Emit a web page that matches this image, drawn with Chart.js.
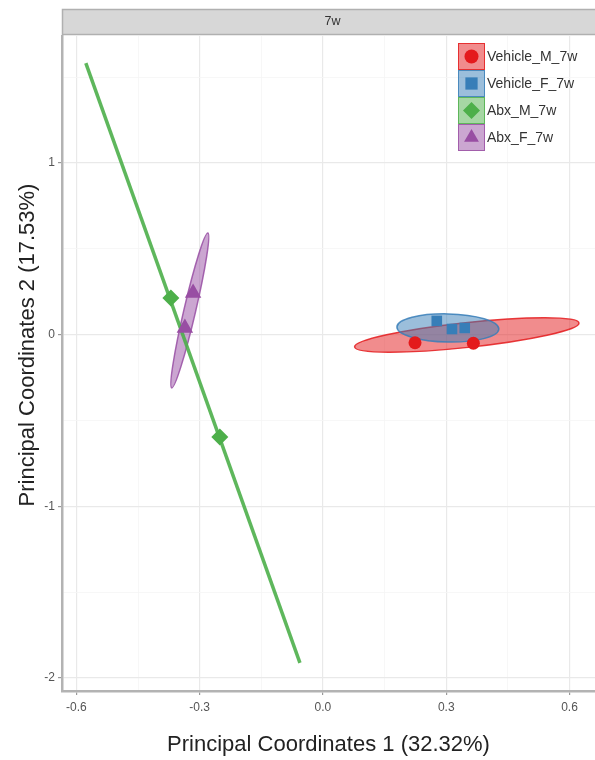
<!DOCTYPE html>
<html>
<head>
<meta charset="utf-8">
<script src="https://cdn.jsdelivr.net/npm/chart.js"></script>
<style>
  body { margin: 0; background: #fff; }
  #c { display: block; }
</style>
</head>
<body>
<canvas id="c" width="595" height="760"></canvas>
<script>
// datos (PCoA, panel 7w)
var groups = ['Vehicle_M_7w', 'Vehicle_F_7w', 'Abx_M_7w', 'Abx_F_7w'];
var colors = ['#E41A1C', '#377EB8', '#4DAF4A', '#984EA3'];
var shapes = ['circle', 'rect', 'rectRot', 'triangle'];

var vehicleM = [[0.224, -0.047], [0.366, -0.050]];
var vehicleF = [[0.277, 0.080], [0.314, 0.033], [0.345, 0.039]];
var abxM = [[-0.370, 0.213], [-0.251, -0.596]];
var abxF = [[-0.316, 0.243], [-0.336, 0.039]];

// elipses: centro, extremo del eje largo, extremo del eje corto
var vehicleMEllipse = [[0.350, -0.002], [0.623, 0.068], [0.3535, -0.074]];
var vehicleFEllipse = [[0.304, 0.039], [0.428, 0.033], [0.304, 0.121]];
var abxFEllipse = [[-0.324, 0.141], [-0.280, 0.592], [-0.310, 0.134]];
// la elipse de Abx_M sale degenerada (una linea)
var abxMLine = [[-0.577, 1.582], [-0.056, -1.912]];

var xMajor = [-0.6, -0.3, 0, 0.3, 0.6];
var xMinor = [-0.45, -0.15, 0.15, 0.45];
var yMajor = [-2, -1, 0, 1];
var yMinor = [-1.5, -0.5, 0.5, 1.5];

var stripLabel = '7w';
var xTitle = 'Principal Coordinates 1 (32.32%)';
var yTitle = 'Principal Coordinates 2 (17.53%)';

function toXY(arr) {
    return arr.map(function (p) { return { x: p[0], y: p[1] }; });
}

function rgba(hex, a) {
    var r = parseInt(hex.substr(1, 2), 16);
    var g = parseInt(hex.substr(3, 2), 16);
    var b = parseInt(hex.substr(5, 2), 16);
    return 'rgba(' + r + ',' + g + ',' + b + ',' + a + ')';
}

function sortedTicks(a, b) {
    return a.concat(b).sort(function (p, q) { return p - q; });
}

// dibuja una forma en (x,y) con el tamaño r
function drawShape(ctx, shape, x, y, r, color) {
    ctx.fillStyle = color;
    ctx.beginPath();
    if (shape == 'circle') {
        ctx.arc(x, y, r, 0, Math.PI * 2);
    } else if (shape == 'rect') {
        ctx.rect(x - r * 0.72, y - r * 0.72, r * 1.44, r * 1.44);
    } else if (shape == 'rectRot') {
        ctx.moveTo(x, y - r);
        ctx.lineTo(x + r, y);
        ctx.lineTo(x, y + r);
        ctx.lineTo(x - r, y);
        ctx.closePath();
    } else {
        ctx.moveTo(x, y - r);
        ctx.lineTo(x + r * 0.87, y + r * 0.5);
        ctx.lineTo(x - r * 0.87, y + r * 0.5);
        ctx.closePath();
    }
    ctx.fill();
}

var ellipses = [
    { e: vehicleMEllipse, color: colors[0] },
    { e: vehicleFEllipse, color: colors[1] },
    { e: abxFEllipse, color: colors[3] }
];

var panelPlugin = {
    id: 'panel',
    beforeDraw: function (chart) {
        var ctx = chart.ctx;
        var area = chart.chartArea;
        // cabecera gris del facet
        ctx.save();
        ctx.fillStyle = '#d7d7d7';
        ctx.fillRect(area.left, 9, area.right - area.left + 5, 26);
        ctx.strokeStyle = '#b0b0b0';
        ctx.lineWidth = 1.5;
        ctx.strokeRect(area.left + 0.5, 9.5, area.right - area.left + 10, 25);
        ctx.fillStyle = '#333';
        ctx.font = '12.5px "Liberation Sans", Arial, sans-serif';
        ctx.textAlign = 'center';
        ctx.textBaseline = 'middle';
        ctx.fillText(stripLabel, (area.left + area.right) / 2 + 4, 22);
        // titulo del eje y (un poco por encima del centro, como en el original)
        ctx.translate(28, 345);
        ctx.rotate(-Math.PI / 2);
        ctx.fillStyle = '#222';
        ctx.font = '22px "Liberation Sans", Arial, sans-serif';
        ctx.fillText(yTitle, 0, 0);
        ctx.restore();
    },
    beforeDatasetsDraw: function (chart) {
        var ctx = chart.ctx;
        var xs = chart.scales.x;
        var ys = chart.scales.y;
        ctx.save();
        ellipses.forEach(function (el) {
            var cx = xs.getPixelForValue(el.e[0][0]);
            var cy = ys.getPixelForValue(el.e[0][1]);
            var mx = xs.getPixelForValue(el.e[1][0]);
            var my = ys.getPixelForValue(el.e[1][1]);
            var nx = xs.getPixelForValue(el.e[2][0]);
            var ny = ys.getPixelForValue(el.e[2][1]);
            var a = Math.hypot(mx - cx, my - cy);
            var b = Math.hypot(nx - cx, ny - cy);
            var ang = Math.atan2(my - cy, mx - cx);
            ctx.beginPath();
            ctx.ellipse(cx, cy, a, b, ang, 0, Math.PI * 2);
            ctx.fillStyle = rgba(el.color, 0.5);
            ctx.fill();
            ctx.strokeStyle = rgba(el.color, 0.85);
            ctx.lineWidth = 1.5;
            ctx.stroke();
        });
        ctx.restore();
    },
    afterDraw: function (chart) {
        // leyenda dentro del panel
        var ctx = chart.ctx;
        var bx = 458, by = 43, bs = 27;
        ctx.save();
        for (var i = 0; i < groups.length; i++) {
            var y0 = by + i * bs;
            ctx.fillStyle = rgba(colors[i], 0.5);
            ctx.fillRect(bx, y0, bs, bs);
            ctx.strokeStyle = rgba(colors[i], 0.8);
            ctx.lineWidth = 1;
            ctx.strokeRect(bx + 0.5, y0 + 0.5, bs - 1, bs - 1);
            drawShape(ctx, shapes[i], bx + bs / 2, y0 + bs / 2, i == 0 ? 7 : 8.5, colors[i]);
            ctx.fillStyle = '#333';
            ctx.font = '14px "Liberation Sans", Arial, sans-serif';
            ctx.textAlign = 'left';
            ctx.textBaseline = 'middle';
            ctx.fillText(groups[i], bx + bs + 2, y0 + bs / 2 + 1);
        }
        ctx.restore();
    }
};

var pointData = [vehicleM, vehicleF, abxM, abxF];
var pointSizes = [6.5, 7.5, 8.5, 9.5];
var datasets = [];
for (var i = 0; i < groups.length; i++) {
    datasets.push({
        label: groups[i],
        data: toXY(pointData[i]),
        pointStyle: shapes[i],
        pointRadius: pointSizes[i],
        pointBackgroundColor: colors[i],
        pointBorderColor: colors[i],
        pointBorderWidth: 0,
        order: 1
    });
}
datasets.push({
    label: 'Abx_M_7w_ellipse',
    data: toXY(abxMLine),
    showLine: true,
    borderColor: rgba(colors[2], 0.9),
    borderWidth: 3.5,
    pointRadius: 0,
    order: 10
});

var xTicks = sortedTicks(xMajor, xMinor);
var yTicks = sortedTicks(yMajor, yMinor);

Chart.defaults.font.family = '"Liberation Sans", Arial, sans-serif';

new Chart(document.getElementById('c'), {
    type: 'scatter',
    data: { datasets: datasets },
    plugins: [panelPlugin],
    options: {
        responsive: false,
        animation: false,
        layout: { autoPadding: false, padding: { top: 36, right: 0, bottom: 0, left: 0 } },
        plugins: { legend: { display: false }, tooltip: { enabled: false } },
        scales: {
            x: {
                type: 'linear',
                min: -0.635,
                max: 0.662,
                afterBuildTicks: function (s) { s.ticks = xTicks.map(function (v) { return { value: v }; }); },
                afterFit: function (s) { s.height = 69; s.paddingLeft = 0; s.paddingRight = 0; },
                border: { display: true, color: '#b3b3b3', width: 2.5 },
                grid: {
                    color: function (c) { return xMajor.indexOf(c.tick.value) >= 0 ? '#e9e9e9' : '#f5f5f5'; },
                    lineWidth: function (c) { return xMajor.indexOf(c.tick.value) >= 0 ? 1.2 : 0.8; },
                    tickColor: function (c) { return xMajor.indexOf(c.tick.value) >= 0 ? '#999' : 'rgba(0,0,0,0)'; },
                    tickLength: 4
                },
                ticks: {
                    autoSkip: false,
                    maxRotation: 0,
                    padding: 5,
                    color: '#555',
                    font: { size: 12 },
                    callback: function (v) { return xMajor.indexOf(v) >= 0 ? v.toFixed(1) : ''; }
                },
                title: {
                    display: true,
                    text: xTitle,
                    color: '#222',
                    font: { size: 22 },
                    padding: { top: 0, bottom: 2 }
                }
            },
            y: {
                type: 'linear',
                min: -2.076,
                max: 1.740,
                afterBuildTicks: function (s) { s.ticks = yTicks.map(function (v) { return { value: v }; }); },
                afterFit: function (s) { s.width = 62; s.paddingTop = 0; s.paddingBottom = 0; },
                border: { display: true, color: '#b3b3b3', width: 2.5 },
                grid: {
                    color: function (c) { return yMajor.indexOf(c.tick.value) >= 0 ? '#e9e9e9' : '#f5f5f5'; },
                    lineWidth: function (c) { return yMajor.indexOf(c.tick.value) >= 0 ? 1.2 : 0.8; },
                    tickColor: function (c) { return yMajor.indexOf(c.tick.value) >= 0 ? '#999' : 'rgba(0,0,0,0)'; },
                    tickLength: 4
                },
                ticks: {
                    autoSkip: false,
                    padding: 3,
                    color: '#555',
                    font: { size: 12 },
                    callback: function (v) { return yMajor.indexOf(v) >= 0 ? v.toFixed(0) : ''; }
                },
                title: { display: false }
            }
        }
    }
});
</script>
</body>
</html>
